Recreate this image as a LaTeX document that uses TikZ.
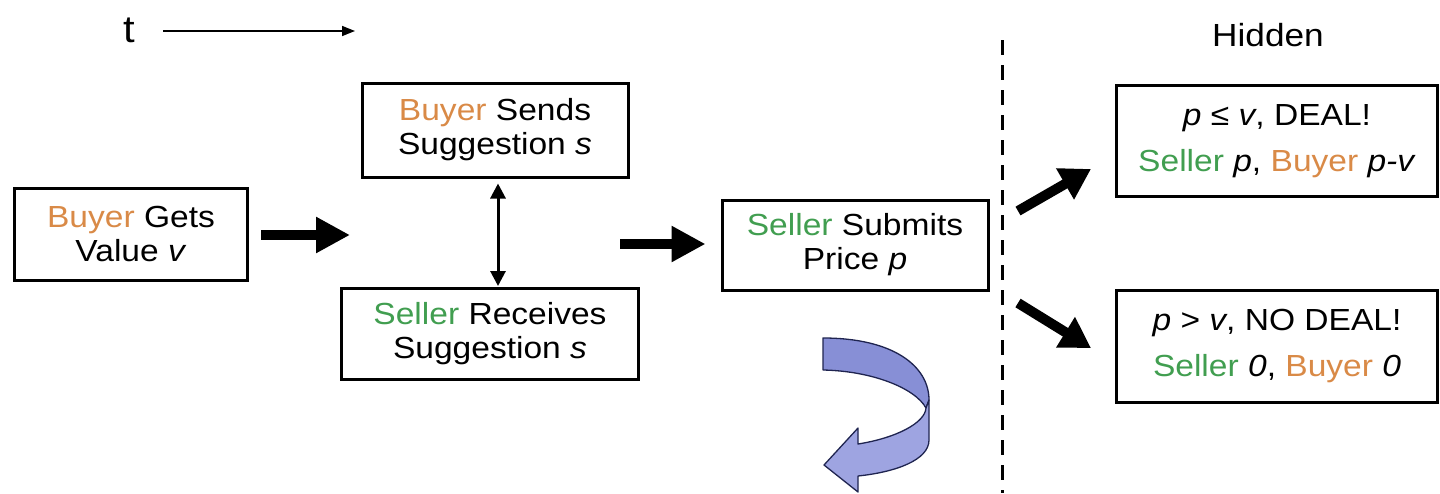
\documentclass[tikz,border=0pt]{standalone}
\usepackage{fontspec}
\setmainfont[FakeStretch=1.1]{Liberation Sans}
\usepackage{xcolor}
\usepackage{tikz}
\usetikzlibrary{calc,arrows.meta}
\definecolor{buyer}{HTML}{D98A47}
\definecolor{seller}{HTML}{419E50}
\definecolor{ribbon}{HTML}{9EA4E1}
\definecolor{ribbondk}{HTML}{878FD6}
\definecolor{rim}{HTML}{1F2450}
\tikzset{
  box/.style={draw=black, line width=3pt, align=center, inner sep=0pt,
    font=\fontsize{30.5}{34}\selectfont},
  outbox/.style={box, font=\fontsize{30.5}{46}\selectfont},
  fat/.style={line width=10pt, -{Triangle[length=34pt,width=34pt]}},
  twoway/.style={line width=3pt, {Triangle[length=15pt,width=15pt]}-{Triangle[length=15pt,width=15pt]}},
  timeline/.style={line width=1.5pt, -{Triangle[length=13pt,width=10pt]}},
  divider/.style={line width=3pt, dash pattern=on 15pt off 10pt},
  turn/.style={draw=rim, line width=1.3pt, line join=round},
}
\newcommand{\B}{\textcolor{buyer}{Buyer}}
\newcommand{\Sl}{\textcolor{seller}{Seller}}

\begin{document}
\begin{tikzpicture}[x=1pt,y=-1pt]
  \useasboundingbox (0,0) rectangle (1440,493);
  % boxes
  \node[box,minimum width=233pt,minimum height=92pt] (A) at (131,234) {\B{} Gets\\Value \textit{v}};
  \node[box,minimum width=266pt,minimum height=94pt] (B) at (495,130) {\B{} Sends\\Suggestion \textit{s}};
  \node[box,minimum width=297pt,minimum height=91pt] (C) at (490,334) {\Sl{} Receives\\Suggestion \textit{s}};
  \node[box,minimum width=266pt,minimum height=90pt] (D) at (855,245) {\Sl{} Submits\\Price \textit{p}};
  \node[outbox,minimum width=321pt,minimum height=111pt] (E) at (1277,141) {\textit{p} ≤ \textit{v}, DEAL!\\\Sl{} \textit{p}, \B{} \textit{p-v}};
  \node[outbox,minimum width=321pt,minimum height=112pt] (F) at (1277,346) {\textit{p} > \textit{v}, NO DEAL!\\\Sl{} \textit{0}, \B{} \textit{0}};
  % labels
  \node[font=\fontsize{38}{38}\selectfont] (t) at (129,30) {t};
  \node[font=\fontsize{32}{32}\selectfont] (hidden) at (1268,35) {Hidden};
  \coordinate (tend) at (355,31);
  \draw[timeline] ([xshift=25pt]t.east |- tend) -- (tend);
  % connectors
  \coordinate (gapL) at (350,235);
  \coordinate (gapR) at (620,244);
  \draw[fat] ([xshift=12pt]A.east |- gapL) -- (gapL);
  \draw[fat] (gapR) -- ([xshift=-15pt]D.west |- gapR);
  \draw[twoway] ([xshift=3pt,yshift=-5pt]B.south) -- ([xshift=8pt,yshift=1pt]C.north);
  \coordinate (splitU) at (1018,211);
  \coordinate (splitD) at (1018,303);
  \draw[fat,-{Triangle[length=30pt,width=34pt]}] (splitU) -- ($(E.west)+(-24,28)$);
  \draw[fat,-{Triangle[length=30pt,width=34pt]}] (splitD) -- ($(F.west)+(-24,2)$);
  \draw[divider] (1002,40) -- (1002,493);
  % turn-around arrow
  \filldraw[turn,fill=ribbondk] (823,338) .. controls (893,338) and (929,366) .. (929,400)
    -- (926,408) .. controls (915,388) and (872,371) .. (823,370) -- cycle;
  \filldraw[turn,fill=ribbon] (929,400) -- (929,440) .. controls (929,460) and (896,472) .. (858,476)
    -- (858,492) -- (824,465) -- (858,428) -- (858,444)
    .. controls (896,438) and (925,423) .. (926,408) -- cycle;
\end{tikzpicture}
\end{document}
